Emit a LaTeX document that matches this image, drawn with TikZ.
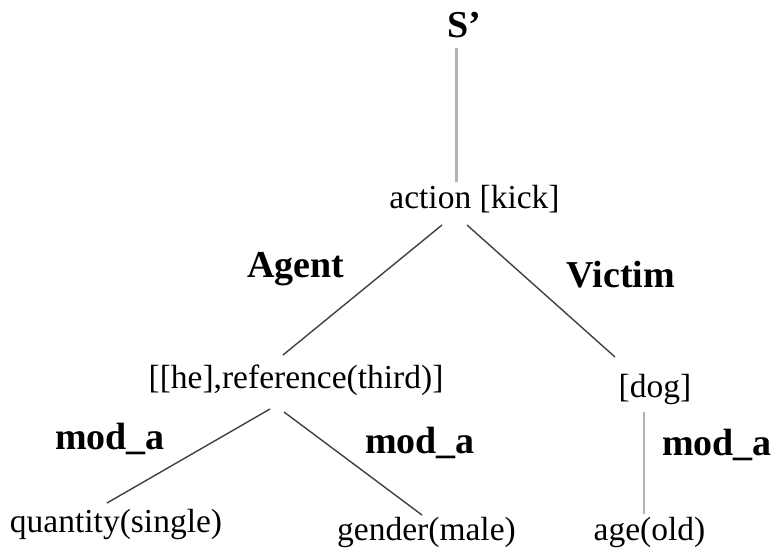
\documentclass[tikz,border=0pt]{standalone}
\usepackage{fontspec}
\setmainfont{Liberation Serif}
\usetikzlibrary{calc}
\begin{document}
\begin{tikzpicture}[x=1pt,y=-1pt,
  lbl/.style={anchor=base,inner sep=0pt,font=\fontsize{33.5}{40}\selectfont},
  rel/.style={anchor=base,inner sep=0pt,font=\fontsize{38}{44}\selectfont\bfseries},
  edge/.style={draw=black!75,line width=1.4pt},
  gedge/.style={draw=black!30,line width=2.6pt}]
\useasboundingbox (0,0) rectangle (778,554);
% nodes
\node[rel] (S) at (464,37) {S’};
\node[lbl] (act) at (474.5,208) {action [kick]};
\node[lbl] (he) at (296,388) {[[he],reference(third)]};
\node[lbl] (dog) at (655,397) {[dog]};
\node[lbl] (qty) at (116,532) {quantity(single)};
\node[lbl] (gen) at (426.5,540) {gender(male)};
\node[lbl] (age) at (649.5,540) {age(old)};
% relation labels
\node[rel] (agent) at (296,277) {Agent};
\node[rel] (victim) at (621,287) {Victim};
\node[rel] (m1) at (110,449) {mod\_a};
\node[rel] (m2) at (420,453) {mod\_a};
\node[rel] (m3) at (717,455) {mod\_a};
% connectors
\draw[gedge] ($(S.base)+(-7.5,11)$) -- ($(act.base)+(-18,-26)$);
\draw[edge] ($(act.base)+(-32.5,17)$) -- ($(he.base)+(-13,-33)$);
\draw[edge] ($(act.base)+(-7.5,17)$) -- ($(dog.base)+(-40,-40)$);
\draw[edge] ($(he.base)+(-26,21)$) -- ($(qty.base)+(-9,-29)$);
\draw[edge] ($(he.base)+(-12,24)$) -- ($(gen.base)+(-4.5,-25)$);
\draw[gedge] ($(dog.base)+(-11,15)$) -- ($(age.base)+(-5.5,-26)$);
\end{tikzpicture}
\end{document}
